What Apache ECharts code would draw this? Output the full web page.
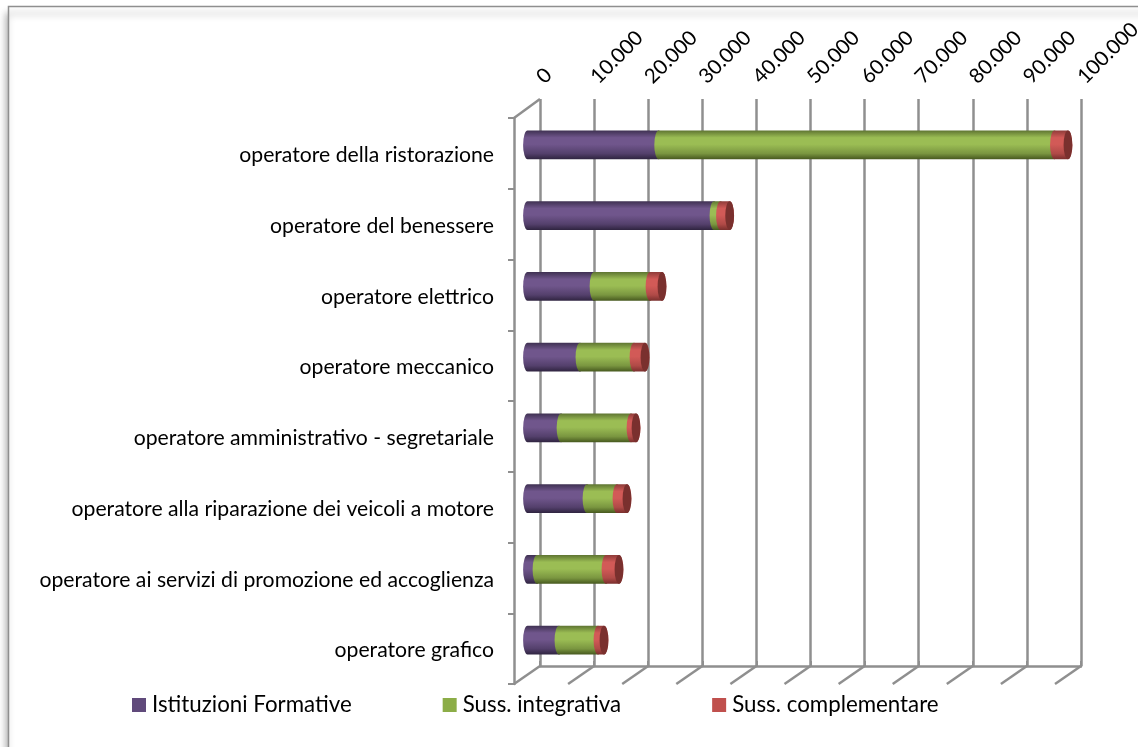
<!DOCTYPE html>
<html><head><meta charset="utf-8">
<style>html,body{margin:0;padding:0;background:#fff}#c{width:1138px;height:747px}</style>
<script src="https://cdn.jsdelivr.net/npm/echarts@6/dist/echarts.min.js"></script>
</head><body><div id="c"></div>
<script>
const categories = ['operatore della ristorazione','operatore del benessere','operatore elettrico','operatore meccanico','operatore amministrativo - segretariale','operatore alla riparazione dei veicoli a motore','operatore ai servizi di promozione ed accoglienza','operatore grafico'];
const istituzioni = [24250,34470,12300,9700,6200,11000,1760,5820];
const integrativa = [73150,1200,10350,9990,12930,5540,12750,7210];
const complementare = [2500,1700,2210,2030,930,1850,2400,1110];
const valueTicks = [0,10000,20000,30000,40000,50000,60000,70000,80000,90000,100000];

const FONT = 'Lato';
const AXIS = '#8f8f8f';
const DEPTH_X = -26, DEPTH_Y = 18;

function grad(edgeTop, mid, low, edgeBot){
  return {type:'linear',x:0,y:0,x2:0,y2:1,colorStops:[
    {offset:0,color:edgeTop},{offset:0.25,color:mid},{offset:0.48,color:mid},{offset:0.8,color:low},{offset:1,color:edgeBot}]};
}
function stack(seriesList, idx){
  return categories.map((c,i)=>{
    let s=0; for(let k=0;k<idx;k++) s+=seriesList[k][i];
    return [s, s+seriesList[idx][i], i];
  });
}
const all=[istituzioni,integrativa,complementare];
function cyl(fill, cap){
  return function(params, api){
    const a=api.coord([api.value(0),api.value(2)]);
    const b=api.coord([api.value(1),api.value(2)]);
    const h=api.size([0,1])[1]*0.405;
    const rx=4.4, ry=h/2, t=a[1]-ry, bt=a[1]+ry;
    const d=`M${a[0]} ${t}L${b[0]} ${t}A${rx} ${ry} 0 0 1 ${b[0]} ${bt}L${a[0]} ${bt}A${rx} ${ry} 0 0 1 ${a[0]} ${t}Z`;
    const children=[{type:'path',shape:{pathData:d,x:a[0]-rx,y:t,width:b[0]-a[0]+2*rx,height:h,layout:'cover'},style:{fill:fill}}];
    if(cap){
      const e=`M${b[0]} ${t}A${rx} ${ry} 0 0 1 ${b[0]} ${bt}A${rx} ${ry} 0 0 1 ${b[0]} ${t}Z`;
      children.push({type:'path',shape:{pathData:e,x:b[0]-rx,y:t,width:2*rx,height:h,layout:'cover'},style:{fill:cap}});
    }
    return {type:'group',children};
  };
}
const legendColors=['#604a7b','#8cad47','#c0504d'];
const fills=[grad('#3f3152','#70568c','#54406c','#2f2440'),grad('#5f7532','#9bbd54','#7a9640','#47591f'),grad('#8f3c39','#d25a57','#b04a47','#7a2f2d')];
const names=['Istituzioni Formative','Suss. integrativa','Suss. complementare'];

const chart=echarts.init(document.getElementById('c'),null,{renderer:'canvas'});
const barSeries=names.map((n,k)=>({
  name:n,type:'custom',xAxisIndex:2,yAxisIndex:2,z:5+k,
  itemStyle:{color:legendColors[k]},
  renderItem:cyl(fills[k],k===2?'#7a302e':null),
  encode:{x:[0,1],y:2},
  data:stack(all,k)
}));
const floorSeries={type:'custom',xAxisIndex:0,yAxisIndex:0,z:1,silent:true,
  renderItem(params,api){
    const p=api.coord([api.value(0),0]);
    return {type:'line',shape:{x1:p[0],y1:p[1],x2:p[0]+DEPTH_X,y2:p[1]+DEPTH_Y},style:{stroke:AXIS,lineWidth:2.5}};
  },
  encode:{x:0},data:valueTicks.map(v=>[v])};
const cornerSeries={type:'custom',xAxisIndex:0,yAxisIndex:0,z:1,silent:true,
  renderItem(params,api){
    const p=api.coord([api.value(0),1]);
    return {type:'line',shape:{x1:p[0],y1:p[1],x2:p[0]+DEPTH_X,y2:p[1]+DEPTH_Y+1},style:{stroke:AXIS,lineWidth:2.5}};
  },
  encode:{x:0},data:[[0]]};

chart.setOption({
  animation:false,
  backgroundColor:'#fff',
  textStyle:{fontFamily:FONT},
  graphic:[
    {type:'rect',z:-5,silent:true,shape:{x:8.5,y:6.5,width:1300,height:900},style:{fill:'#fff',stroke:'#8f8f8f',lineWidth:1.5,shadowBlur:7,shadowColor:'rgba(0,0,0,0.35)',shadowOffsetX:-2,shadowOffsetY:7}}
  ],
  legend:{left:127,top:689,itemWidth:14,itemHeight:14,itemGap:91,icon:'rect',
    textStyle:{fontFamily:FONT,fontSize:22.3,color:'#000',padding:[0,0,0,1]},data:names},
  grid:[
    {left:540,top:99,width:541,height:567,outerBoundsMode:'none'},
    {left:514,top:118,width:541,height:566,outerBoundsMode:'none'},
    {left:527.5,top:109.5,width:541,height:566,outerBoundsMode:'none'},
    {left:514,top:120,width:541,height:566,outerBoundsMode:'none'}
  ],
  xAxis:[
    {gridIndex:0,type:'value',position:'top',min:0,max:100000,interval:10000,
     axisLine:{show:true,lineStyle:{color:AXIS,width:2.5}},
     axisTick:{show:true,length:5,lineStyle:{color:AXIS,width:2}},
     splitLine:{show:true,lineStyle:{color:AXIS,width:2.5}},
     axisLabel:{rotate:45,margin:19,fontFamily:FONT,fontSize:20.5,color:'#000',hideOverlap:false,
       formatter:v=>String(v).replace(/\B(?=(\d{3})+$)/g,'.')}},
    {gridIndex:1,type:'value',show:false,min:0,max:100000},
    {gridIndex:2,type:'value',show:false,min:0,max:100000},
    {gridIndex:3,type:'value',show:false,min:0,max:100000}
  ],
  yAxis:[
    {gridIndex:0,type:'value',show:false,min:0,max:1},
    {gridIndex:1,type:'category',inverse:true,data:categories,position:'left',
     axisLine:{show:true,lineStyle:{color:AXIS,width:2.5}},
     axisTick:{show:true,length:6,alignWithLabel:false,lineStyle:{color:AXIS,width:2}},
     axisLabel:{show:false},
     splitLine:{show:false}},
    {gridIndex:2,type:'category',inverse:true,data:categories,show:false},
    {gridIndex:3,type:'category',inverse:true,data:categories,position:'left',
     axisLine:{show:false},axisTick:{show:false},
     axisLabel:{margin:20,fontFamily:FONT,fontSize:21.2,color:'#000',interval:0},
     splitLine:{show:false}}
  ],
  series:[floorSeries,cornerSeries,
    {type:'bar',xAxisIndex:1,yAxisIndex:1,data:[],silent:true},
    {type:'bar',xAxisIndex:3,yAxisIndex:3,data:[],silent:true},
    ...barSeries]
});
</script></body></html>
